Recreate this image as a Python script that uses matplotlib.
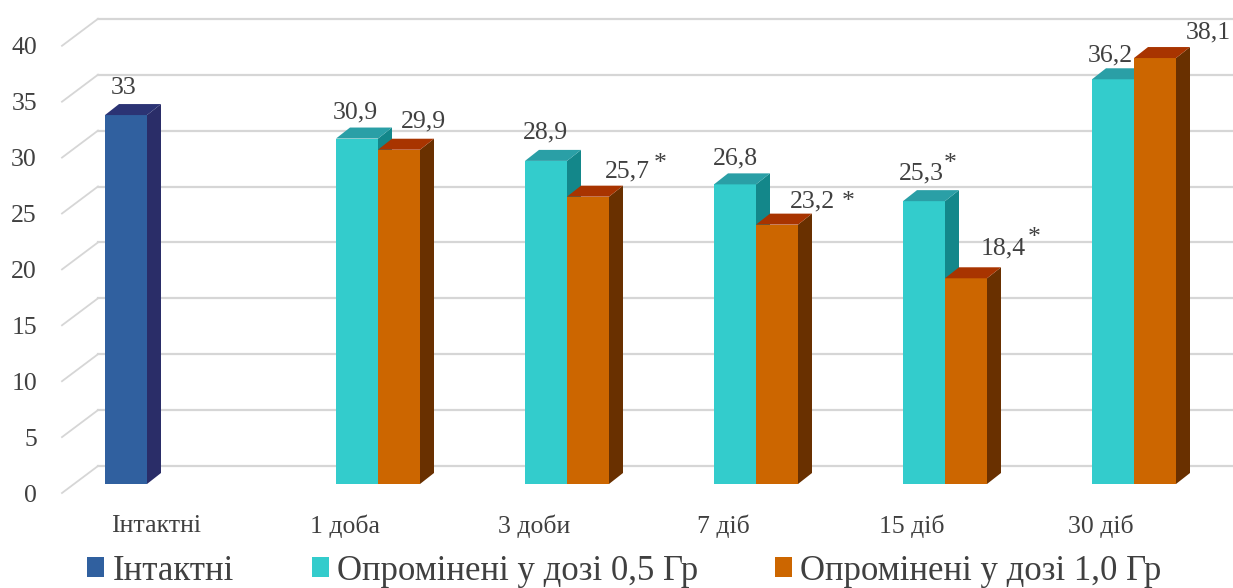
import numpy as np
import matplotlib
matplotlib.use("Agg")
import matplotlib.pyplot as plt
from matplotlib.patches import Polygon, Patch
from matplotlib.transforms import ScaledTranslation

# ---- data -------------------------------------------------------------
categories = ["Інтактні", "1 доба", "3 доби", "7 діб", "15 діб", "30 діб"]
series_names = ["Інтактні", "Опромінені у дозі 0,5 Гр", "Опромінені у дозі 1,0 Гр"]
nan = np.nan
intact = [33, nan, nan, nan, nan, nan]
dose_05 = [nan, 30.9, 28.9, 26.8, 25.3, 36.2]
dose_10 = [nan, 29.9, 25.7, 23.2, 18.4, 38.1]
# significance marks (*) next to value labels
sig_05 = [False, False, False, False, True, False]
sig_10 = [False, False, True, True, True, False]
y_ticks = [0, 5, 10, 15, 20, 25, 30, 35, 40]

# ---- styling ----------------------------------------------------------
W, H, DPI = 1233, 588, 100
FONT = ["Liberation Serif", "DejaVu Serif"]
TXT = "#404040"
GRID = "#d6d6d6"
# (front, top, side) colours per series
COLORS = [
    ("#30609f", "#2b3374", "#2a2d68"),
    ("#33cccc", "#2a9fa6", "#13878a"),
    ("#cc6600", "#a83400", "#693000"),
]
# pixel geometry of the pseudo-3D box
PPU = 11.18          # pixels per value unit
ZERO = 484           # pixel row of value 0 on the bar front plane
CAT = 189            # pixels per category
C0 = 168             # pixel column of the first category centre
AX_LEFT = 45
YMIN, YMAX = -1.5, 42
BAR_DEPTH = (14, 11)       # bar side/top depth (px right, px up)
WALL = (24, 18)            # back wall relative to bar front plane
FLOOR = (-12, -9)          # front floor edge relative to bar front plane

# label offsets from the front-top centre of each bar, in pixels
label_off_05 = [None, (-2, 26), (-1, 28), (0, 26), (-3, 28), (-3, 24)]
label_off_10 = [None, (24, 28), (39, 25), (35, 23), (37, 30), (53, 26)]
label_off_int = [(-2, 27), None, None, None, None, None]
star_off_10 = {2: (11, 8), 3: (14, 0), 4: (9, 10)}
star_off_05 = {4: (7, 9)}

plt.rcParams["font.family"] = FONT

fig = plt.figure(figsize=(W / DPI, H / DPI), dpi=DPI)
bottom_px = ZERO - YMIN * PPU
top_px = ZERO - YMAX * PPU
ax = fig.add_axes([AX_LEFT / W, (H - bottom_px) / H,
                   (W - AX_LEFT) / W, (bottom_px - top_px) / H])
ax.set_xlim((AX_LEFT - C0) / CAT, (W - C0) / CAT)
ax.set_ylim(YMIN, YMAX)
for s in ax.spines.values():
    s.set_visible(False)

# pixel -> data conversion
p0 = ax.transData.transform((0, 0))
p1 = ax.transData.transform((1, 1))
sx, sy = p1[0] - p0[0], p1[1] - p0[1]


def d(px_x, px_y):
    return px_x / sx, px_y / sy


# ---- back wall grid and left side wall --------------------------------
wall_dx, wall_dy = d(*WALL)
floor_dx, floor_dy = d(*FLOOR)
x_side_front = ax.get_xlim()[0] + 17 / sx
x_side_back = x_side_front + (WALL[0] - FLOOR[0]) / sx
for v in y_ticks:
    ax.plot([x_side_back, ax.get_xlim()[1] + 1], [v + wall_dy, v + wall_dy],
            color=GRID, lw=1.6, zorder=1, clip_on=False)
    ax.plot([x_side_front, x_side_back], [v + floor_dy, v + wall_dy],
            color=GRID, lw=1.3, zorder=1, clip_on=False)

# ---- bars -------------------------------------------------------------
bw = 1 / 4.5
x = np.arange(len(categories))
dep_x, dep_y = d(*BAR_DEPTH)
all_series = [intact, dose_05, dose_10]
all_offsets = [label_off_int, label_off_05, label_off_10]
all_stars = [{}, star_off_05, star_off_10]
for k, (vals, (front, top, side)) in enumerate(zip(all_series, COLORS)):
    z = 3 + k * 3
    bars = ax.bar(x + (k - 1) * bw, vals, width=bw, color=front,
                  linewidth=0, zorder=z, label=series_names[k])
    for i, rect in enumerate(bars):
        h = vals[i]
        if not np.isfinite(h):
            continue
        x0 = rect.get_x()
        x1 = x0 + rect.get_width()
        ax.add_patch(Polygon([(x1, 0), (x1 + dep_x, dep_y), (x1 + dep_x, h + dep_y), (x1, h)],
                             closed=True, facecolor=side, edgecolor="none", zorder=z + 1))
        ax.add_patch(Polygon([(x0, h), (x0 + dep_x, h + dep_y), (x1 + dep_x, h + dep_y), (x1, h)],
                             closed=True, facecolor=top, edgecolor="none", zorder=z + 1))
        txt = f"{h:g}".replace(".", ",")
        off = all_offsets[k][i]
        ann = ax.annotate(txt, xy=(rect.get_x() + rect.get_width() / 2, h),
                          xytext=off, textcoords="offset pixels",
                          ha="center", va="center", fontsize=18.5, color=TXT,
                          zorder=20, annotation_clip=False)
        if i in all_stars[k]:
            so = all_stars[k][i]
            ax.annotate("*", xy=(1, 0.5), xycoords=ann, xytext=so,
                        textcoords="offset pixels", ha="center", va="center",
                        fontsize=18.5, color=TXT, zorder=20, annotation_clip=False)

# ---- axes labels ------------------------------------------------------
ax.set_yticks(y_ticks)
ax.set_yticklabels([str(v) for v in y_ticks])
ax.set_xticks(x)
ax.set_xticklabels(categories)
ax.tick_params(axis="both", length=0, labelsize=18.5, labelcolor=TXT)
ax.tick_params(axis="y", pad=8 * 72 / DPI)
ax.tick_params(axis="x", pad=14 * 72 / DPI)
for lbl in ax.get_yticklabels():
    lbl.set_transform(lbl.get_transform() + ScaledTranslation(0, FLOOR[1] / DPI, fig.dpi_scale_trans))
for lbl in ax.get_xticklabels():
    lbl.set_transform(lbl.get_transform() + ScaledTranslation(FLOOR[0] / DPI, 0, fig.dpi_scale_trans))

# ---- legend -----------------------------------------------------------
legend_left_px = [87, 312, 775]
for k in range(3):
    fig.legend(handles=[Patch(facecolor=COLORS[k][0], edgecolor="none")],
               labels=[series_names[k]], loc="center left",
               bbox_to_anchor=(legend_left_px[k] / W, 1 - 571 / H),
               frameon=False, fontsize=25, handlelength=0.5, handleheight=0.5,
               handletextpad=0.23, borderpad=0, borderaxespad=0,
               labelcolor=TXT)

fig.savefig("out.png", dpi=DPI)
